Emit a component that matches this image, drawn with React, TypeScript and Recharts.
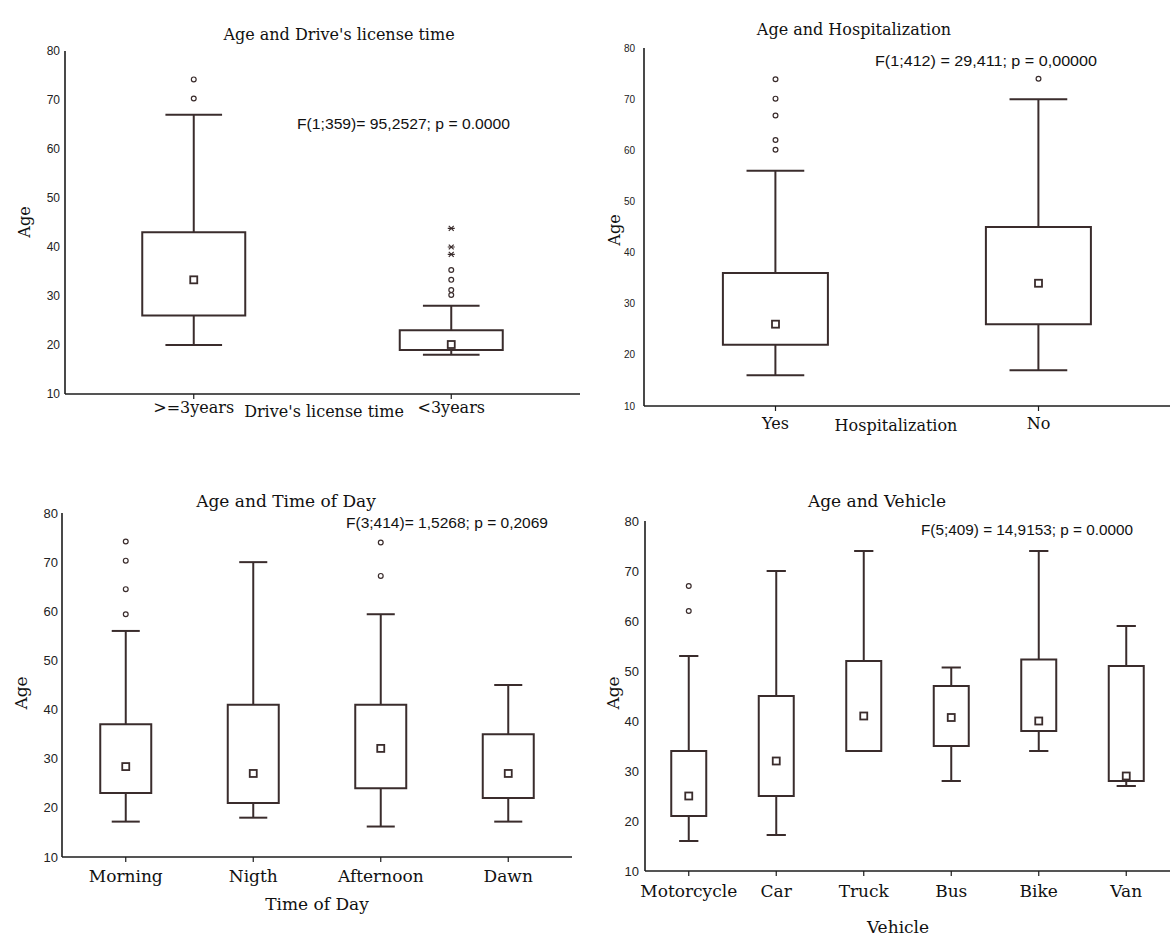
import React from 'react';
import { Bar, ComposedChart, Line, XAxis, YAxis } from 'recharts';

const INK = '#3a2c2c';
const AXIS = '#1c1c1c';
const SERIF = '"DejaVu Serif", "Liberation Serif", serif';
const SANS = '"Liberation Sans", Arial, sans-serif';

const yTicks = [10, 20, 30, 40, 50, 60, 70, 80];

// Age and Drive's license time
const licenseCats = ['>=3years', '<3years'];
const licenseMin = [20, 18];
const licenseQ1 = [26, 19];
const licenseQ3 = [43, 23];
const licenseMax = [67, 28];
const licenseMean = [33.3, 20.1];
const licenseOutliers = [[70.3, 74.2], [30.2, 31.2, 33.3, 35.3]];
const licenseExtremes = [[], [38.5, 40, 43.8]];

// Age and Hospitalization
const hospCats = ['Yes', 'No'];
const hospMin = [16, 17];
const hospQ1 = [22, 26];
const hospQ3 = [36, 45];
const hospMax = [56, 70];
const hospMean = [26, 34];
const hospOutliers = [[60.1, 62, 66.8, 70.1, 73.9], [74]];

// Age and Time of Day
const dayCats = ['Morning', 'Nigth', 'Afternoon', 'Dawn'];
const dayMin = [17.2, 18, 16.2, 17.2];
const dayQ1 = [23, 21, 24, 22];
const dayQ3 = [37, 41, 41, 35];
const dayMax = [56, 70, 59.4, 45];
const dayMean = [28.4, 27, 32.1, 27];
const dayOutliers = [[59.4, 64.5, 70.3, 74.2], [], [67.2, 74], []];

// Age and Vehicle
const vehicleCats = ['Motorcycle', 'Car', 'Truck', 'Bus', 'Bike', 'Van'];
const vehicleMin = [16, 17.2, 34, 28, 34, 27];
const vehicleQ1 = [21, 25, 34, 35, 38, 28];
const vehicleQ3 = [34, 45, 52, 47, 52.3, 51];
const vehicleMax = [53, 70, 74, 50.7, 74, 59];
const vehicleMean = [25, 32, 41, 40.7, 40, 29];
const vehicleOutliers = [[62, 67], [], [], [], [], []];

function buildRows(
  cats: string[],
  lo: number[],
  q1: number[],
  q3: number[],
  hi: number[],
  mean: number[],
  outliers: number[][],
  extremes: number[][],
) {
  return cats.map((name, i) => {
    const row: Record<string, any> = {
      name,
      base: lo[i],
      lowW: q1[i] - lo[i],
      box: q3[i] - q1[i],
      upW: hi[i] - q3[i],
      mean: mean[i],
    };
    (outliers[i] || []).forEach((v, k) => (row['o' + k] = v));
    (extremes[i] || []).forEach((v, k) => (row['e' + k] = v));
    return row;
  });
}

const Empty = () => <g />;

const LowWhisker = (props: any) => {
  const { x, y, width, height } = props;
  if (x == null || y == null) return <g />;
  const cx = x + width / 2;
  const cap = width * 0.55;
  return (
    <g>
      <line x1={cx} x2={cx} y1={y} y2={y + height} stroke={INK} strokeWidth={2} />
      <line x1={cx - cap / 2} x2={cx + cap / 2} y1={y + height} y2={y + height} stroke={INK} strokeWidth={2} />
    </g>
  );
};

const HighWhisker = (props: any) => {
  const { x, y, width, height } = props;
  if (x == null || y == null) return <g />;
  const cx = x + width / 2;
  const cap = width * 0.55;
  return (
    <g>
      <line x1={cx} x2={cx} y1={y} y2={y + height} stroke={INK} strokeWidth={2} />
      <line x1={cx - cap / 2} x2={cx + cap / 2} y1={y} y2={y} stroke={INK} strokeWidth={2} />
    </g>
  );
};

const MeanDot = (props: any) => {
  const { cx, cy, value } = props;
  if (cx == null || cy == null || value == null) return <g key={props.key} />;
  return <rect key={props.key} x={cx - 3.5} y={cy - 3.5} width={7} height={7} fill="#fff" stroke={INK} strokeWidth={1.8} />;
};

const OutlierDot = (props: any) => {
  const { cx, cy, value } = props;
  if (cx == null || cy == null || value == null) return <g key={props.key} />;
  return <circle key={props.key} cx={cx} cy={cy} r={2.4} fill="#fff" stroke={INK} strokeWidth={1.2} />;
};

const ExtremeDot = (props: any) => {
  const { cx, cy, value } = props;
  if (cx == null || cy == null || value == null) return <g key={props.key} />;
  const s = 3.5;
  return (
    <g key={props.key} stroke={INK} strokeWidth={1.2}>
      <line x1={cx - s} x2={cx + s} y1={cy} y2={cy} />
      <line x1={cx - s * 0.7} x2={cx + s * 0.7} y1={cy - s * 0.7} y2={cy + s * 0.7} />
      <line x1={cx - s * 0.7} x2={cx + s * 0.7} y1={cy + s * 0.7} y2={cy - s * 0.7} />
    </g>
  );
};

type PanelProps = {
  left: number;
  top: number;
  width: number;
  height: number;
  margin: { top: number; right: number; bottom: number; left: number };
  rows: Record<string, any>[];
  nOut: number;
  nExt: number;
  yFont: number;
  yGap: number;
  xFont: number;
  xGap: number;
};

function BoxPanel({ left, top, width, height, margin, rows, nOut, nExt, yFont, yGap, xFont, xGap }: PanelProps) {
  const outKeys = Array.from({ length: nOut }, (_, k) => 'o' + k);
  const extKeys = Array.from({ length: nExt }, (_, k) => 'e' + k);
  return (
    <div style={{ position: 'absolute', left, top, width, height }}>
      <ComposedChart width={width} height={height} data={rows} margin={margin} barCategoryGap="30%">
        <XAxis
          dataKey="name"
          type="category"
          interval={0}
          height={30}
          axisLine={{ stroke: AXIS, strokeWidth: 1.6 }}
          tickLine={{ stroke: AXIS, strokeWidth: 1.2 }}
          tickSize={5}
          tickMargin={xGap}
          tick={{ fontFamily: SERIF, fontSize: xFont, fill: '#111' }}
        />
        <YAxis
          type="number"
          domain={[10, 80]}
          ticks={yTicks}
          allowDataOverflow
          width={40}
          axisLine={{ stroke: AXIS, strokeWidth: 1.6 }}
          tickLine={false}
          tickSize={2}
          tickMargin={yGap}
          tick={{ fontFamily: SANS, fontSize: yFont, fill: '#222' }}
        />
        <Bar dataKey="base" stackId="s" shape={Empty} isAnimationActive={false} />
        <Bar dataKey="lowW" stackId="s" shape={LowWhisker} isAnimationActive={false} />
        <Bar dataKey="box" stackId="s" fill="#fff" stroke={INK} strokeWidth={2} isAnimationActive={false} />
        <Bar dataKey="upW" stackId="s" shape={HighWhisker} isAnimationActive={false} />
        <Line dataKey="mean" stroke="none" dot={MeanDot} activeDot={false} isAnimationActive={false} />
        {outKeys.map((k) => (
          <Line key={k} dataKey={k} stroke="none" dot={OutlierDot} activeDot={false} isAnimationActive={false} />
        ))}
        {extKeys.map((k) => (
          <Line key={k} dataKey={k} stroke="none" dot={ExtremeDot} activeDot={false} isAnimationActive={false} />
        ))}
      </ComposedChart>
    </div>
  );
}

const maxLen = (a: number[][]) => Math.max(0, ...a.map((v) => v.length));

export default function App() {
  const licenseRows = buildRows(licenseCats, licenseMin, licenseQ1, licenseQ3, licenseMax, licenseMean, licenseOutliers, licenseExtremes);
  const hospRows = buildRows(hospCats, hospMin, hospQ1, hospQ3, hospMax, hospMean, hospOutliers, [[], []]);
  const dayRows = buildRows(dayCats, dayMin, dayQ1, dayQ3, dayMax, dayMean, dayOutliers, []);
  const vehicleRows = buildRows(vehicleCats, vehicleMin, vehicleQ1, vehicleQ3, vehicleMax, vehicleMean, vehicleOutliers, []);

  const label = (x: number, y: number, text: string, size: number) => (
    <text x={x} y={y} textAnchor="middle" fontFamily={SERIF} fontSize={size} fill="#111">
      {text}
    </text>
  );
  const ageLabel = (x: number, y: number, size: number) => (
    <text transform={`translate(${x},${y}) rotate(-90)`} textAnchor="middle" fontFamily={SERIF} fontSize={size} fill="#111">
      Age
    </text>
  );
  const stat = (x: number, y: number, text: string, len: number) => (
    <text x={x} y={y} fontFamily={SANS} fontSize={14} fill="#111" textLength={len} lengthAdjust="spacingAndGlyphs">
      {text}
    </text>
  );

  return (
    <div style={{ position: 'absolute', left: 0, top: 0, width: 1175, height: 941, background: '#fff', overflow: 'hidden' }}>
      <BoxPanel
        left={0} top={0} width={585} height={460}
        margin={{ top: 51, right: 5, bottom: 36, left: 25 }}
        rows={licenseRows} nOut={maxLen(licenseOutliers)} nExt={maxLen(licenseExtremes)}
        yFont={12} yGap={3} xFont={16} xGap={3}
      />
      <BoxPanel
        left={585} top={0} width={590} height={460}
        margin={{ top: 48, right: 5, bottom: 24, left: 19 }}
        rows={hospRows} nOut={maxLen(hospOutliers)} nExt={0}
        yFont={10} yGap={7} xFont={16} xGap={7}
      />
      <BoxPanel
        left={0} top={460} width={585} height={481}
        margin={{ top: 53, right: 13, bottom: 54, left: 22 }}
        rows={dayRows} nOut={maxLen(dayOutliers)} nExt={0}
        yFont={13} yGap={2} xFont={17} xGap={8}
      />
      <BoxPanel
        left={585} top={460} width={590} height={481}
        margin={{ top: 61, right: 5, bottom: 40, left: 20 }}
        rows={vehicleRows} nOut={maxLen(vehicleOutliers)} nExt={0}
        yFont={13} yGap={4} xFont={17} xGap={9}
      />
      <svg width={1175} height={941} style={{ position: 'absolute', left: 0, top: 0, pointerEvents: 'none' }}>
        {label(339, 40, "Age and Drive's license time", 16)}
        {stat(297, 129, 'F(1;359)= 95,2527; p = 0.0000', 213)}
        {ageLabel(30, 222, 16)}
        {label(324, 417, "Drive's license time", 16)}

        {label(854, 35, 'Age and Hospitalization', 16)}
        {stat(875, 66, 'F(1;412) = 29,411; p = 0,00000', 222)}
        {ageLabel(620, 230, 16)}
        {label(896, 431, 'Hospitalization', 16)}

        {label(286, 507, 'Age and Time of Day', 17)}
        {stat(346, 528, 'F(3;414)= 1,5268; p = 0,2069', 202)}
        {ageLabel(27, 693, 17)}
        {label(317, 910, 'Time of Day', 17)}

        {label(877, 507, 'Age and Vehicle', 17)}
        {stat(921, 535, 'F(5;409) = 14,9153; p = 0.0000', 212)}
        {ageLabel(619, 693, 17)}
        {label(898, 933, 'Vehicle', 17)}
      </svg>
    </div>
  );
}
